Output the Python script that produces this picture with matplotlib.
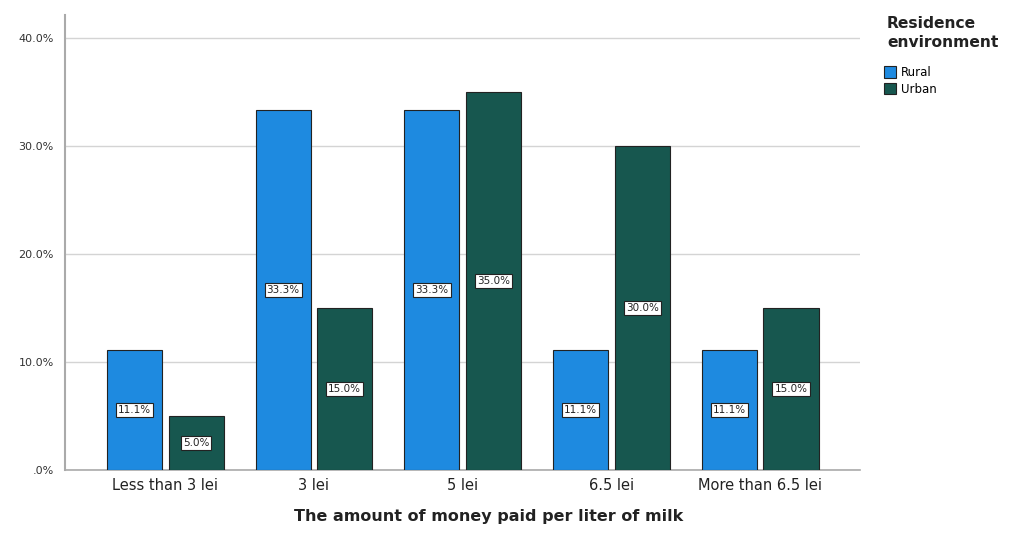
import numpy as np
import matplotlib.pyplot as plt

# Share of respondents by price paid per liter of milk
categories = ["Less than 3 lei", "3 lei", "5 lei", "6.5 lei", "More than 6.5 lei"]
rural = [11.1, 33.3, 33.3, 11.1, 11.1]
urban = [5.0, 15.0, 35.0, 30.0, 15.0]
y_ticks = [0, 10, 20, 30, 40]
y_tick_labels = [".0%", "10.0%", "20.0%", "30.0%", "40.0%"]

rural_color = "#1e8ae0"
urban_color = "#17574f"

fig = plt.figure(figsize=(10.26, 5.52), dpi=100)
ax = fig.add_axes([65 / 1026, 1 - 470 / 552, 795 / 1026, 455 / 552])

x = np.arange(len(categories))
width = 0.37
offset = 0.207

bars_r = ax.bar(x - offset, rural, width, color=rural_color, edgecolor="#222222",
                linewidth=0.8, label="Rural", zorder=3)
bars_u = ax.bar(x + offset, urban, width, color=urban_color, edgecolor="#222222",
                linewidth=0.8, label="Urban", zorder=3)

# value labels in the middle of each bar
for bars, vals in [(bars_r, rural), (bars_u, urban)]:
    for b, v in zip(bars, vals):
        ax.text(b.get_x() + b.get_width() / 2, v / 2, f"{v:.1f}%",
                ha="center", va="center", fontsize=7.5, color="#222222", zorder=4,
                bbox=dict(boxstyle="square,pad=0.2", facecolor="white",
                          edgecolor="#222222", linewidth=0.8))

ax.set_xlim(-0.674, 4.671)
ax.set_ylim(0, 42.1)
ax.set_yticks(y_ticks)
ax.set_yticklabels(y_tick_labels, fontsize=8, color="#333333")
ax.set_xticks(x)
ax.set_xticklabels(categories, fontsize=10.5, color="#222222")
ax.tick_params(axis="both", length=0)
ax.tick_params(axis="x", pad=6)
ax.tick_params(axis="y", pad=8)

ax.grid(axis="y", color="#d4d4d4", linewidth=1, zorder=0)
for side in ["top", "right"]:
    ax.spines[side].set_visible(False)
ax.spines["left"].set_color("#aaaaaa")
ax.spines["left"].set_linewidth(1.5)
ax.spines["bottom"].set_color("#aaaaaa")
ax.spines["bottom"].set_linewidth(1.2)

fig.text(489 / 1026, 1 - 516 / 552, "The amount of money paid per liter of milk",
         ha="center", va="center", fontsize=11.5, fontweight="bold", color="#222222")

# legend title and entries
fig.text(887 / 1026, 1 - 16 / 552, "Residence\nenvironment", ha="left", va="top",
         fontsize=11.2, fontweight="bold", color="#222222", linespacing=1.35)
leg = fig.legend(handles=[bars_r, bars_u], labels=["Rural", "Urban"],
                 loc="upper left", bbox_to_anchor=(884 / 1026, 1 - 66 / 552),
                 frameon=False, fontsize=8.5, handlelength=1.0, handleheight=1.1,
                 handletextpad=0.4, labelspacing=0.3, borderpad=0, borderaxespad=0)

fig.savefig("out.png", dpi=100)
